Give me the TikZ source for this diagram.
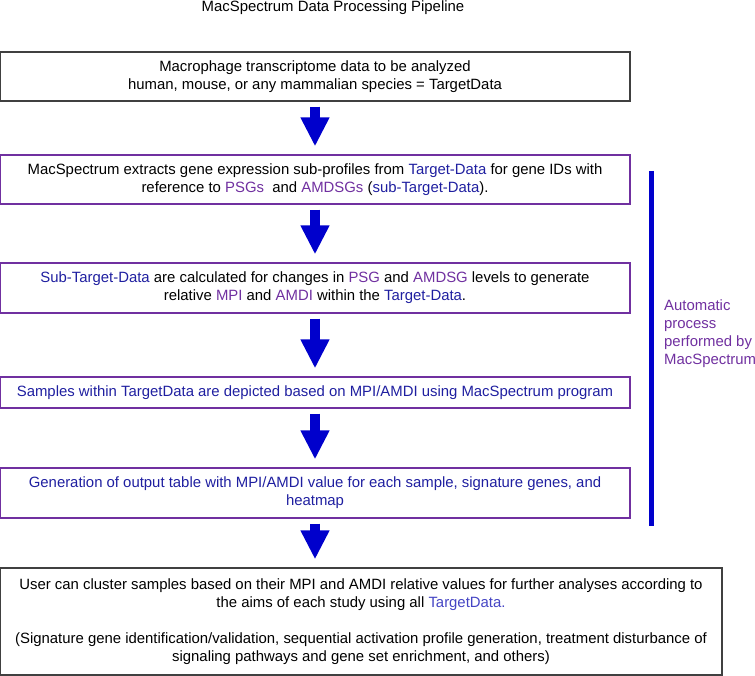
\documentclass[tikz,border=0pt]{standalone}
\usepackage{fontspec}
\setmainfont{Liberation Sans}
\usepackage{xcolor}
\usetikzlibrary{arrows.meta,positioning}
\definecolor{stepborder}{HTML}{7030A0}
\definecolor{mspurple}{HTML}{7030A0}
\definecolor{msblue}{HTML}{1F1FA0}
\definecolor{lightblue}{HTML}{4545C4}
\definecolor{arrowblue}{HTML}{0000CC}
\definecolor{darkframe}{HTML}{404040}
\newcommand{\bluetxt}[1]{\textcolor{msblue}{#1}}
\newcommand{\purptxt}[1]{\textcolor{mspurple}{#1}}

\begin{document}
\begin{tikzpicture}[x=1pt,y=-1pt,
  font=\fontsize{14.9pt}{18pt}\selectfont,
  outerbox/.style={draw=darkframe,line width=1.3pt,align=center,inner sep=0pt,minimum width=630pt},
  stepbox/.style={draw=stepborder,line width=1.2pt,align=center,inner sep=0pt,minimum width=630pt},
  flowarrow/.style={arrowblue,line width=10pt,shorten <=5pt,shorten >=8pt,-{Triangle[width=27pt,length=29pt]}}]
  \useasboundingbox (0,0) rectangle (755,676);
  \node (title) at (333,8) {MacSpectrum Data Processing Pipeline};
  % input data
  \node[outerbox,minimum height=49pt] (input) at (315,76.5) {Macrophage transcriptome data to be analyzed\\human, mouse, or any mammalian species = TargetData};
  % automatic steps
  \node[stepbox,minimum height=49pt] (extract) at (315,179.5) {MacSpectrum extracts gene expression sub-profiles from \bluetxt{Target-Data} for gene IDs with\\reference to \purptxt{PSGs}\ \ and \purptxt{AMDSGs} (\bluetxt{sub-Target-Data}).};
  \node[stepbox,minimum height=50pt] (calc) at (315,288) {\bluetxt{Sub-Target-Data} are calculated for changes in \purptxt{PSG} and \purptxt{AMDSG} levels to generate\\relative \purptxt{MPI} and \purptxt{AMDI} within the \bluetxt{Target-Data}.};
  \node[stepbox,minimum height=31pt,text=msblue] (depict) at (315,392.5) {Samples within TargetData are depicted based on MPI/AMDI using MacSpectrum program};
  \node[stepbox,minimum height=50pt,text=msblue] (output) at (315,493) {Generation of output table with MPI/AMDI value for each sample, signature genes, and\\heatmap};
  % user analysis
  \node[outerbox,minimum width=722pt,minimum height=107pt] (user) at (361,621.5) {User can cluster samples based on their MPI and AMDI relative values for further analyses according to\\the aims of each study using all \textcolor{lightblue}{TargetData.}\\[18pt](Signature gene identification/validation, sequential activation profile generation, treatment disturbance of\\signaling pathways and gene set enrichment, and others)};
  \draw[flowarrow] (input.south) -- (extract.north);
  \draw[flowarrow] (extract.south) -- (calc.north);
  \draw[flowarrow] (calc.south) -- (depict.north);
  \draw[flowarrow] (depict.south) -- (output.north);
  \draw[flowarrow] (output.south) -- (output.south |- user.north);
  % side bar
  \coordinate (bartop) at (651,171);
  \coordinate (barbot) at (651,526);
  \draw[arrowblue,line width=5pt] (bartop) -- (barbot);
  \node[text=mspurple,align=left,inner sep=0pt,anchor=west] (auto) at (664,333.5) {Automatic\\process\\performed by\\MacSpectrum};
\end{tikzpicture}
\end{document}
